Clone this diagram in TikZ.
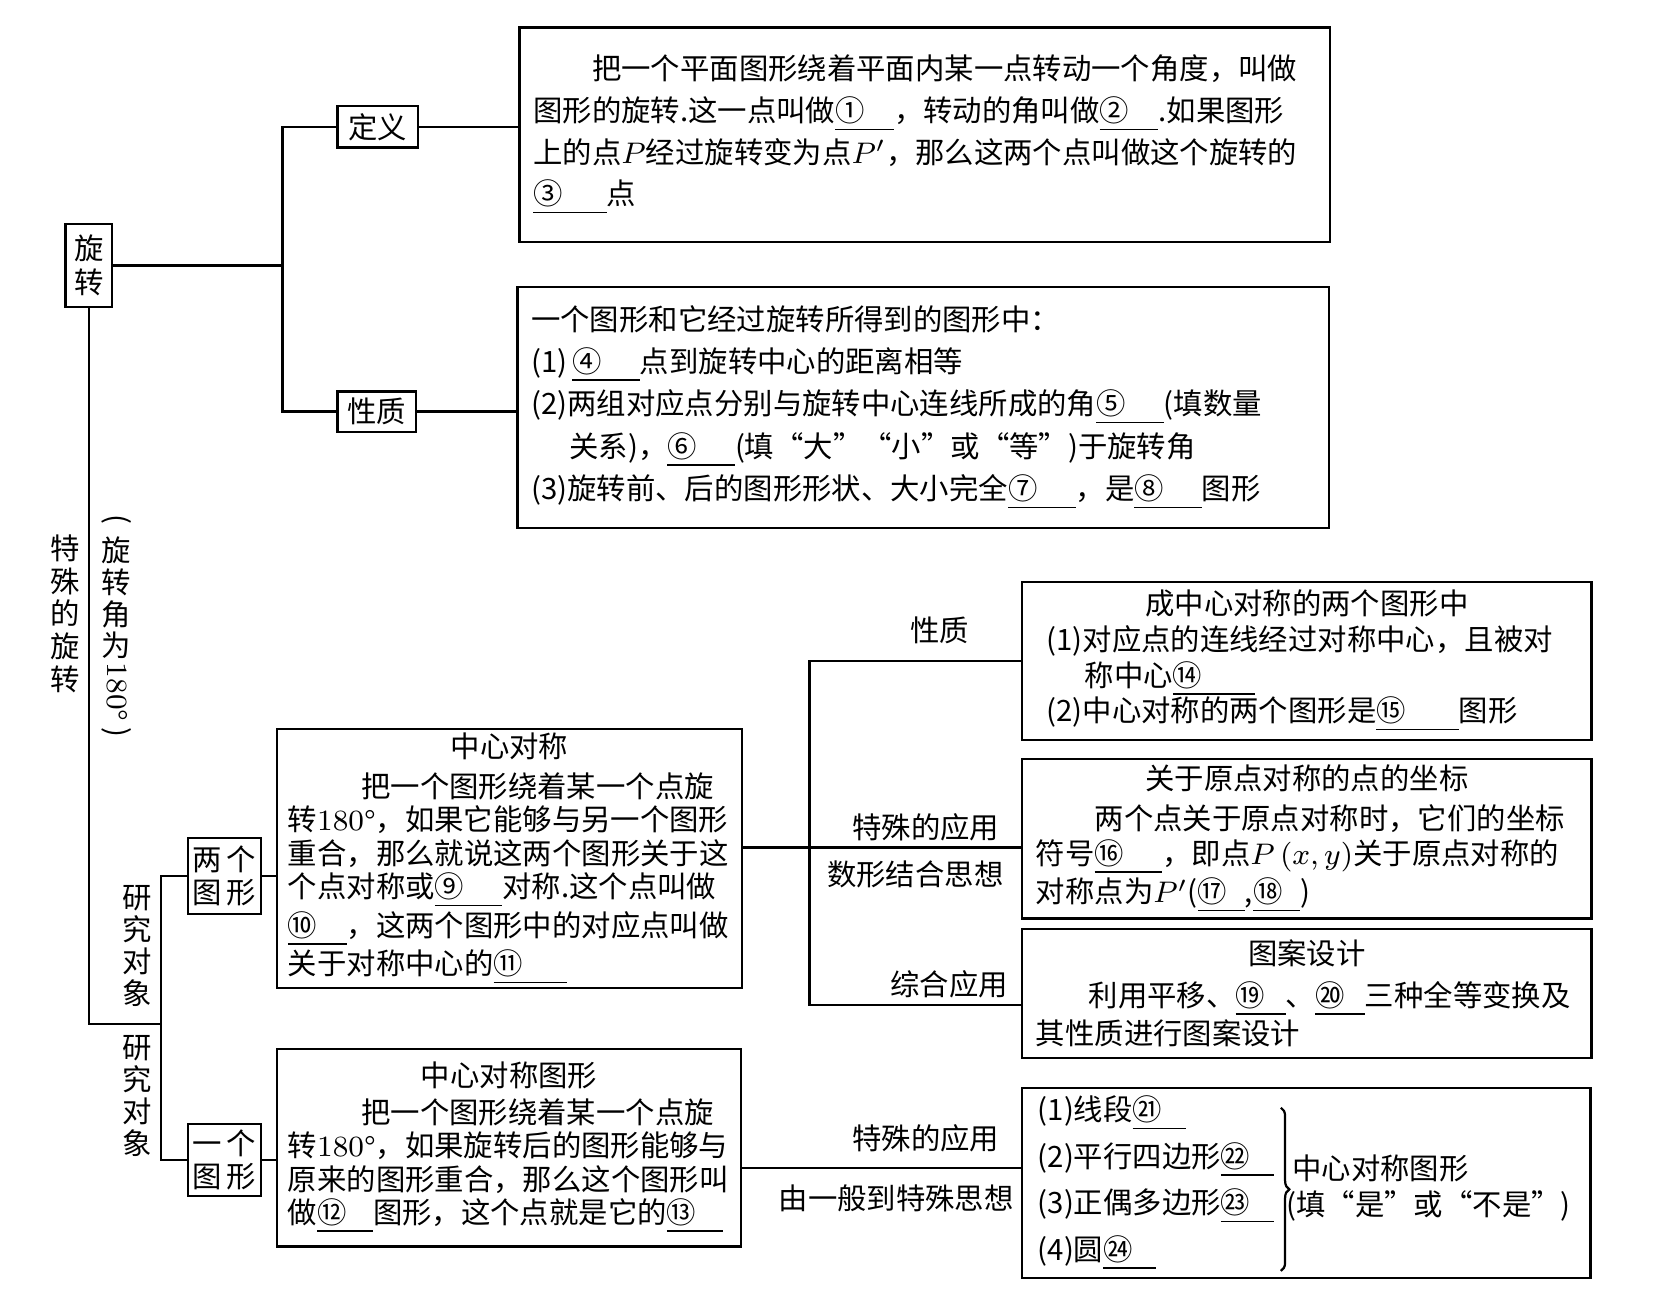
\documentclass[tikz,border=0pt]{standalone}
\usepackage{fontspec}
\newfontfamily\cjk{Noto Sans CJK SC}
\usetikzlibrary{decorations.pathreplacing}
\newcommand\fs[1]{\cjk\fontsize{7.9pt}{#1}\selectfont}
\newcommand\blank[2][1.3em]{\underline{#2\hspace{#1}}}
\begin{document}
\begin{tikzpicture}
  [x=0.1mm,y=-0.1mm,line width=0.6pt,
   every node/.style={font=\fs{11pt}},
   tag/.style={draw,inner sep=0pt,align=center},
   textbox/.style={draw,anchor=north west,align=left,inner xsep=1.3mm,inner ysep=0pt}]
  \useasboundingbox (0,0) rectangle (1566,1229);

  % upper part
  \node (xz) [tag,minimum width=4.4mm,minimum height=7.8mm,font=\fs{9.2pt}] at (84,251) {旋\\转};
  \node (dy) [tag,minimum width=7.6mm,minimum height=3.9mm] at (357,120) {定义};
  \node (xzh) [tag,minimum width=7.4mm,minimum height=3.8mm] at (356,389) {性质};
  \node (dybox) [textbox,text width=74mm,minimum height=20.3mm,font=\fs{11.2pt}] at (490,25)
    {\hspace*{2em}把一个平面图形绕着平面内某一点转动一个角度，叫做\\
     图形的旋转.这一点叫做\blank[1em]{①}，转动的角叫做\blank[1em]{②}.如果图形\\
     上的点$P$经过旋转变为点$P'$，那么这两个点叫做这个旋转的\\
     \blank[1.5em]{③}点};
  \node (xzbox) [textbox,text width=74.1mm,minimum height=22.8mm,font=\fs{11.4pt}] at (488,270)
    {一个图形和它经过旋转所得到的图形中：\\
     (1)\,\blank{④}点到旋转中心的距离相等\\
     (2)两组对应点分别与旋转中心连线所成的角\blank{⑤}(填数量\\
     \hspace*{1.3em}关系)，\blank{⑥}(填“大”“小”或“等”)于旋转角\\
     (3)旋转前、后的图形形状、大小完全\blank{⑦}，是\blank{⑧}图形};

  \coordinate (j1) at (267,251);
  \draw (xz) -- (j1);
  \draw (dy) -| (j1) |- (xzh);
  \draw (dy.east) -- (dy.east -| dybox.west);
  \draw (xzh.east) -- (xzh.east -| xzbox.west);

  % special rotation
  \node (tsxz) [font=\fs{8.8pt},align=center] at (62,580) {特\\殊\\的\\旋\\转};
  \node (jiao) [font=\fs{8.6pt},align=center] at (110,592)
    {\rotatebox[origin=c]{-90}{(}\\旋\\转\\角\\为\\\rotatebox[origin=c]{-90}{\textrm{180°}\ )}};
  \node (yj1) [font=\fs{8.6pt},align=center] at (130,894) {研\\究\\对\\象};
  \node (yj2) [font=\fs{8.6pt},align=center] at (130,1036) {研\\究\\对\\象};
  \node (lg) [tag,minimum width=6.9mm,minimum height=7.2mm,font=\fs{9pt}] at (212,828) {两\hspace{0.15em}个\\图\hspace{0.15em}形};
  \node (yg) [tag,minimum width=6.9mm,minimum height=6.8mm,font=\fs{9pt}] at (212,1096) {一\hspace{0.15em}个\\图\hspace{0.15em}形};

  \coordinate (j2) at (152,968);
  \draw (xz) |- (j2);
  \draw (lg) -| (j2) |- (yg);

  \node (zxdc) [textbox,inner xsep=1mm,text width=41.9mm,minimum height=24.5mm,font=\fs{9pt}] at (261,688)
    {\hfill 中心对称\hfill\null\\[0.6mm]
     \hspace*{2.5em}把一个图形绕着某一个点旋\\
     转\textrm{180°}，如果它能够与另一个图形\\
     重合，那么就说这两个图形关于这\\
     个点对称或\blank{⑨}对称.这个点叫做\\
     \blank[1em]{⑩}，这两个图形中的对应点叫做\\
     关于对称中心的\blank[1.5em]{⑪}};
  \node (zxdctx) [textbox,inner xsep=1mm,text width=41.8mm,minimum height=18.7mm,font=\fs{9pt}] at (261,990)
    {\hfill 中心对称图形\hfill\null\\[0.3mm]
     \hspace*{2.5em}把一个图形绕着某一个点旋\\
     转\textrm{180°}，如果旋转后的图形能够与\\
     原来的图形重合，那么这个图形叫\\
     做\blank[0.9em]{⑫}图形，这个点就是它的\blank[0.9em]{⑬}};
  \draw (yg.east) -- (yg.east -| zxdctx.west);
  \draw (lg.east) -- (lg.east -| zxdc.west);

  % right part
  \node (xz2) [textbox,text width=51.2mm,minimum height=14.9mm,font=\fs{9.6pt}] at (965,549)
    {\hfill 成中心对称的两个图形中\hfill\null\\
     \hspace*{1mm}(1)对应点的连线经过对称中心，且被对\\
     \hspace*{1mm}\hspace*{1.3em}称中心\blank[1.8em]{⑭}\\
     \hspace*{1mm}(2)中心对称的两个图形是\blank[1.8em]{⑮}图形};
  \node (zb) [textbox,text width=51.2mm,minimum height=15.1mm,font=\fs{9.2pt}] at (965,716)
    {\hfill 关于原点对称的点的坐标\hfill\null\\[0.6mm]
     \hspace*{2em}两个点关于原点对称时，它们的坐标\\
     符号\blank{⑯}，即点$P\,(x,y)$关于原点对称的\\
     对称点为$P'$(\blank[0.6em]{⑰},\blank[0.6em]{⑱})};
  \node (ta) [textbox,text width=51.2mm,minimum height=12.2mm,font=\fs{8.9pt}] at (965,877)
    {\hfill 图案设计\hfill\null\\[0.8mm]
     \hspace*{1.8em}利用平移、\blank[0.7em]{⑲}、\blank[0.7em]{⑳}三种全等变换及\\
     其性质进行图案设计};

  \coordinate (j3) at (765,801);
  \coordinate (j4) at (765,950);
  \draw (zxdc.east |- j3) -- (zb.west |- j3);
  \draw (xz2) -| (j4) -- (j4 -| ta.west);
  \node (xzlab) at (888,596) {性质};
  \node (tsyy1) at (875,782) {特殊的应用};
  \node (sxjh) at (865,826) {数形结合思想};
  \node (zhyy) at (897,930) {综合应用};

  % bottom right
  \node (ts) [draw,anchor=north west,minimum width=53.7mm,minimum height=18mm] at (965,1027) {};
  \node (tsl) [anchor=west,align=left,font=\fs{12.5pt}] at (968,1118)
    {(1)线段\blank[0.8em]{㉑}\\
     (2)平行四边形\blank[0.8em]{㉒}\\
     (3)正偶多边形\blank[0.8em]{㉓}\\
     (4)圆\blank[0.8em]{㉔}};
  \draw [decorate,decoration={brace,amplitude=0.8mm}]
    ([xshift=-0.6mm,yshift=-2.4mm]tsl.north east) -- ([xshift=-0.6mm,yshift=1.2mm]tsl.south east);
  \node (tsr) [anchor=west,align=left,font=\fs{9.6pt}] at (1203,1123)
    {\hspace*{0.2em}中心对称图形\\(填“是”或“不是”)};
  \coordinate (j5) at (700,1104);
  \draw (zxdctx.east |- j5) -- (ts.west |- j5);
  \node (tsyy2) at (875,1076) {特殊的应用};
  \node (ybts) at (847,1133) {由一般到特殊思想};
\end{tikzpicture}
\end{document}
